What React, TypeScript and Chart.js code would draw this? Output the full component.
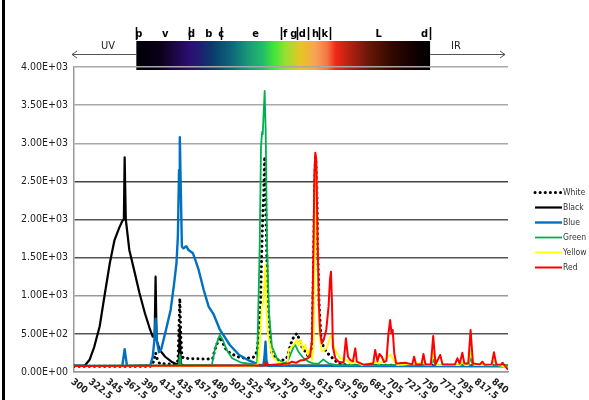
import React, { useEffect, useRef } from "react";
import { Chart, registerables } from "chart.js";

Chart.register(...registerables);

// ---------- DATA ----------
const xTickLabels = [
  "300", "322.5", "345", "367.5", "390", "412.5", "435", "457.5", "480", "502.5",
  "525", "547.5", "570", "592.5", "615", "637.5", "660", "682.5", "705", "727.5",
  "750", "772.5", "795", "817.5", "840",
];
const yTicks = [0, 500, 1000, 1500, 2000, 2500, 3000, 3500, 4000];

const whiteWl = [300, 398, 401, 404.7, 407, 410, 430, 433.5, 434.5, 435.8, 437, 438.5, 441, 450, 470, 478, 481, 487, 495, 500, 510, 520, 530, 535, 537, 539, 541.4, 542.7, 543.4, 544.7, 546, 547, 548.6, 551, 554, 560.6, 569, 573, 575.5, 578.5, 582, 586, 589.5, 592.5, 597, 601, 605.5, 607.5, 609, 610, 611.5, 613, 614.5, 617, 620, 625, 630, 635, 640, 650, 857];
const whiteVal = [75, 75, 100, 250, 160, 110, 100, 150, 500, 966, 500, 200, 183, 175, 170, 175, 300, 460, 300, 250, 200, 180, 190, 266, 500, 770, 1731, 2168, 2300, 2824, 2300, 1731, 988, 507, 245, 157, 157, 180, 266, 376, 463, 507, 420, 332, 266, 200, 332, 1500, 2500, 2830, 2500, 1500, 900, 450, 332, 250, 200, 150, 110, 90, 85];

const blackWl = [300, 314, 320, 326, 333, 339, 346, 352, 358, 362, 364, 365, 366.5, 371, 378, 384, 391, 397, 401, 403.5, 404.7, 406, 410, 417, 425, 431, 434.5, 435.8, 437, 442, 857];
const blackVal = [85, 85, 160, 330, 600, 990, 1430, 1730, 1890, 1980, 2000, 2815, 2000, 1600, 1300, 1035, 770, 577, 463, 470, 1250, 420, 290, 200, 135, 105, 110, 580, 100, 85, 85];

const blueWl = [300, 362, 365, 368, 398, 401, 403, 404.7, 406.5, 409, 412, 418, 424, 428, 431.5, 433.3, 434.8, 435.8, 437, 438.5, 440.5, 444, 447, 452.7, 455.7, 460, 466.5, 472.8, 479, 487, 500, 512, 525, 533.5, 538, 543, 544.5, 545.8, 547, 549, 857];
const blueVal = [80, 80, 300, 80, 90, 200, 400, 700, 400, 260, 300, 550, 813, 1120, 1425, 1775, 2650, 3078, 2430, 1643, 1622, 1650, 1600, 1557, 1470, 1338, 1075, 857, 760, 560, 354, 223, 148, 113, 92, 90, 200, 397, 150, 80, 75];

const greenWl = [300, 434.5, 435.8, 437, 477, 481, 487, 491, 496, 503, 515, 527, 534, 535, 538.3, 540, 541.4, 542.2, 543.4, 544.7, 546, 547.8, 550.3, 554, 560.5, 569, 574, 577.6, 582, 584, 588, 594.7, 601, 607.5, 614, 620, 626.7, 635, 758, 761, 764, 806, 809, 812, 857];
const greenVal = [80, 90, 230, 90, 92, 310, 485, 420, 288, 180, 122, 105, 95, 113, 1643, 2955, 3150, 3120, 3393, 3685, 3174, 1643, 770, 332, 180, 113, 135, 223, 332, 354, 266, 180, 135, 109, 110, 166, 113, 92, 90, 160, 90, 90, 180, 90, 85];

const yellowWl = [300, 530, 536, 538, 541, 543, 545.6, 547, 549, 551, 555, 561, 570, 574, 575.5, 578.5, 582, 586, 588, 591, 594, 597, 600, 602, 605.5, 607.5, 609, 610.3, 611.5, 613, 615, 618, 624.6, 629, 631, 634, 641.7, 650, 655, 661, 670, 686.5, 692, 706, 710, 715, 748.5, 752, 758, 761, 766, 795, 798.4, 802, 806, 809, 814, 836, 839, 845, 857];
const yellowVal = [80, 80, 100, 300, 856, 900, 1403, 850, 500, 376, 200, 135, 100, 110, 288, 320, 354, 420, 354, 420, 288, 354, 223, 288, 157, 300, 1500, 2850, 2500, 1300, 500, 266, 310, 463, 485, 310, 180, 160, 110, 140, 90, 130, 110, 230, 160, 90, 120, 90, 90, 250, 90, 90, 130, 90, 90, 280, 90, 90, 150, 90, 60];

const redWl = [300, 530, 545, 546, 547.5, 575, 580, 585, 590, 595, 600, 603, 605.4, 607.5, 608.5, 609.7, 611, 612.6, 614.4, 616, 618, 620.3, 623.8, 626.7, 628.5, 629.8, 631, 632.3, 635.3, 639.5, 646, 649, 651.6, 654.5, 658, 661, 663, 671.5, 684, 686.5, 689.5, 692, 695, 698, 701, 703.6, 705.8, 707.5, 709, 711, 713.5, 725, 734, 736.5, 739, 746, 748.5, 751, 758, 761, 764, 770, 773, 789, 792, 795, 798.4, 801, 806, 809, 812, 821, 824, 827, 836, 839, 842, 848, 850, 852, 857];
const redVal = [80, 85, 90, 130, 90, 110, 135, 120, 150, 157, 180, 200, 420, 1731, 2606, 2876, 2780, 1731, 857, 507, 376, 420, 555, 857, 1207, 1316, 944, 332, 180, 135, 122, 442, 200, 157, 140, 310, 135, 96, 110, 288, 140, 236, 200, 130, 150, 507, 682, 507, 551, 249, 113, 120, 100, 200, 100, 100, 236, 100, 100, 472, 100, 223, 100, 100, 180, 110, 253, 110, 110, 551, 110, 100, 135, 95, 100, 258, 100, 95, 122, 95, 30];

const seriesNames = ["White", "Black", "Blue", "Green", "Yellow", "Red"];

// ---------- STYLE ----------
const FONT = '"Liberation Sans Narrow", "DejaVu Sans Condensed", Arial, sans-serif';
const seriesStyle = [
  { color: "#000000", width: 3, dash: [0.1, 5] },
  { color: "#000000", width: 2.2, dash: [] },
  { color: "#0070C0", width: 2.4, dash: [] },
  { color: "#00B050", width: 1.8, dash: [] },
  { color: "#FFFF00", width: 1.8, dash: [] },
  { color: "#FF0000", width: 2, dash: [] },
];
const spectrumStops: [number, string][] = [
  [380, "#000005"], [410, "#0a0018"], [448, "#2c0e70"], [463, "#1e2070"],
  [478, "#0a3c6c"], [504, "#0f6a7a"], [523, "#1a9878"], [542, "#22bb6a"],
  [557, "#44e43c"], [572, "#98e030"], [591, "#e8c424"], [610, "#f7a356"],
  [625, "#f47444"], [636, "#f02818"], [655, "#b02010"], [678, "#681808"],
  [708, "#300800"], [738, "#100000"], [757, "#000000"],
];
const spectrumMarks: [number, string][] = [
  [383, "p"], [417, "v"], [451, "d"], [473, "b"], [489, "c"], [533, "e"],
  [571, "f"], [582, "g"], [593, "d"], [610, "h"], [622, "k"], [691, "L"], [750, "d"],
];
const gridColors = ["#9a9a9a", "#555555", "#9a9a9a", "#555555", "#555555", "#444444", "#a8a8a8", "#a8a8a8", "#a8a8a8"];

function sci(v: number): string {
  if (v === 0) return "0.00E+00";
  const e = Math.floor(Math.log10(v));
  const m = v / Math.pow(10, e);
  return m.toFixed(2) + "E+" + String(e).padStart(2, "0");
}

const series = [
  [whiteWl, whiteVal], [blackWl, blackVal], [blueWl, blueVal],
  [greenWl, greenVal], [yellowWl, yellowVal], [redWl, redVal],
];

const decor = {
  id: "decor",
  beforeDraw(chart: any) {
    const ctx = chart.ctx;
    const xs = chart.scales.x;
    ctx.save();
    ctx.fillStyle = "#000";
    ctx.fillRect(2, 0, 3, 400);
    const x0 = xs.getPixelForValue(380);
    const x1 = xs.getPixelForValue(757);
    const g = ctx.createLinearGradient(x0, 0, x1, 0);
    spectrumStops.forEach(([wl, c]) => g.addColorStop((wl - 380) / 377, c));
    ctx.fillStyle = g;
    ctx.fillRect(x0, 41, x1 - x0, 29);
    ctx.restore();
  },
  afterDraw(chart: any) {
    const ctx = chart.ctx;
    const xs = chart.scales.x;
    ctx.save();
    ctx.fillStyle = "#222";
    ctx.font = "bold 9.5px " + FONT;
    ctx.textAlign = "left";
    ctx.textBaseline = "top";
    xTickLabels.forEach((lab) => {
      const px = xs.getPixelForValue(parseFloat(lab));
      ctx.save();
      ctx.translate(px + 1, 377);
      ctx.rotate((38 * Math.PI) / 180);
      ctx.fillText(lab, 0, 0);
      ctx.restore();
    });
    ctx.fillStyle = "#000";
    ctx.strokeStyle = "#000";
    ctx.font = "bold 11px " + FONT;
    ctx.textAlign = "center";
    ctx.textBaseline = "alphabetic";
    spectrumMarks.forEach(([wl, t]) => {
      ctx.fillText(t, xs.getPixelForValue(wl), 37);
    });
    ctx.lineWidth = 1.5;
    [380, 448, 489, 566, 586, 600, 615, 629, 757].forEach((wl) => {
      const px = Math.round(xs.getPixelForValue(wl)) + 0.5;
      ctx.beginPath();
      ctx.moveTo(px, 27);
      ctx.lineTo(px, 40);
      ctx.stroke();
    });
    ctx.fillStyle = "#222";
    ctx.font = "11px " + FONT;
    ctx.textAlign = "center";
    ctx.textBaseline = "middle";
    ctx.fillText("UV", 108, 46);
    ctx.fillText("IR", 456, 46);
    ctx.strokeStyle = "#555";
    ctx.lineWidth = 1;
    const bl = xs.getPixelForValue(380);
    const br = xs.getPixelForValue(757);
    ctx.beginPath();
    ctx.moveTo(bl, 54.5); ctx.lineTo(72, 54.5);
    ctx.moveTo(77, 51); ctx.lineTo(72, 54.5); ctx.lineTo(77, 58);
    ctx.moveTo(br, 54.5); ctx.lineTo(505, 54.5);
    ctx.moveTo(500, 51); ctx.lineTo(505, 54.5); ctx.lineTo(500, 58);
    ctx.stroke();
    ctx.font = "8.5px " + FONT;
    ctx.textAlign = "left";
    ctx.textBaseline = "middle";
    seriesNames.forEach((name, i) => {
      const y = 192.5 + i * 15;
      const st = seriesStyle[i];
      ctx.strokeStyle = st.color;
      ctx.lineWidth = st.width;
      ctx.lineCap = i === 0 ? "round" : "butt";
      ctx.setLineDash(st.dash);
      ctx.beginPath();
      ctx.moveTo(535, y);
      ctx.lineTo(562, y);
      ctx.stroke();
      ctx.setLineDash([]);
      ctx.fillStyle = "#333";
      ctx.fillText(name, 563, y);
    });
    ctx.restore();
  },
};

export default function App() {
  const ref = useRef<HTMLCanvasElement | null>(null);
  useEffect(() => {
    document.body.style.margin = "0";
    const datasets = series.map(([wl, val], i) => ({
      label: seriesNames[i],
      data: wl.map((x, j) => ({ x, y: val[j] })),
      borderColor: seriesStyle[i].color,
      borderWidth: seriesStyle[i].width,
      borderDash: seriesStyle[i].dash,
      borderCapStyle: i === 0 ? "round" : "butt",
      borderJoinStyle: "round",
      pointRadius: 0,
      tension: 0,
      fill: false,
      order: 6 - i,
    }));
    const chart = new Chart(ref.current as HTMLCanvasElement, {
      type: "line",
      data: { datasets: datasets as any },
      options: {
        animation: false,
        responsive: true,
        maintainAspectRatio: false,
        layout: { padding: { top: 67, right: 81, left: 0, bottom: 0 } },
        plugins: { legend: { display: false }, tooltip: { enabled: false } },
        scales: {
          x: {
            type: "linear",
            min: 300,
            max: 857,
            ticks: { display: false },
            grid: { display: false },
            border: { display: true, color: "#9a9a9a", width: 1.5 },
            afterFit: (s: any) => { s.height = 28; },
          },
          y: {
            min: 0,
            max: 4000,
            afterBuildTicks: (s: any) => { s.ticks = yTicks.map((v) => ({ value: v })); },
            ticks: {
              callback: (v: any) => sci(Number(v)),
              font: { family: FONT, size: 10.5 },
              color: "#222",
              padding: 6,
            },
            grid: {
              drawTicks: false,
              lineWidth: 1.5,
              color: (c: any) => gridColors[c.index] || "#999",
            },
            border: { display: true, color: "#9a9a9a", width: 1.5 },
            afterFit: (s: any) => { s.width = 74; },
          },
        },
      },
      plugins: [decor],
    });
    return () => chart.destroy();
  }, []);
  return (
    <div style={{ position: "relative", width: 589, height: 400 }}>
      <canvas ref={ref} />
    </div>
  );
}
